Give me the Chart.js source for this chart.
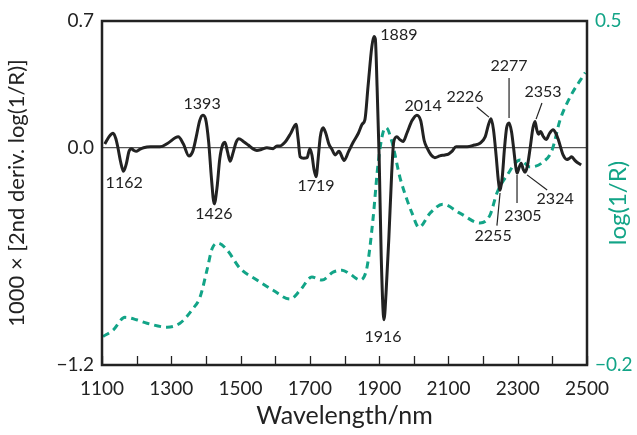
<!DOCTYPE html>
<html>
<head>
<meta charset="utf-8">
<script src="https://cdn.jsdelivr.net/npm/chart.js@4"></script>
<style>
  html, body { margin: 0; padding: 0; background: #fff; }
  #wrap { width: 637px; height: 435px; }
</style>
</head>
<body>
<div id="wrap"><canvas id="chart-nir" width="637" height="435"></canvas></div>
<script>
// second derivative spectrum (x1000), left axis
const derivWl = [1108, 1120, 1132, 1140, 1146, 1154, 1162, 1170, 1178, 1185, 1192, 1199, 1208, 1220, 1240, 1267,
  1290, 1320, 1335, 1351, 1362, 1372, 1382, 1391, 1399, 1408, 1416, 1424, 1432, 1440, 1449, 1455, 1462, 1470, 1478,
  1487, 1495, 1508, 1522, 1535, 1547, 1560, 1576, 1594, 1605, 1614, 1628, 1645, 1660, 1666, 1672, 1682, 1692, 1700,
  1706, 1712, 1718, 1724, 1730, 1738, 1746, 1755, 1764, 1773, 1784, 1799, 1812, 1825, 1840, 1851, 1859, 1868, 1879,
  1885, 1889, 1894, 1900, 1906, 1914, 1920, 1928, 1936, 1942, 1951, 1960, 1969, 1980, 1995, 2009, 2020, 2030, 2038,
  2050, 2061, 2075, 2090, 2100, 2110, 2122, 2135, 2154, 2175, 2191, 2206, 2216, 2223, 2230, 2238, 2244, 2249, 2255,
  2262, 2268, 2275, 2282, 2288, 2294, 2298, 2304, 2310, 2316, 2321, 2328, 2336, 2344, 2350, 2355, 2360, 2366, 2373,
  2382, 2392, 2402, 2410, 2418, 2431, 2442, 2448, 2456, 2465, 2471, 2483];
const derivVal = [0.02, 0.06, 0.08, 0.05, 0.0, -0.08, -0.13, -0.09, -0.02, -0.005, -0.015, -0.02, -0.01, 0.0, 0.005, 0.005,
  0.025, 0.06, 0.02, -0.045, -0.02, 0.06, 0.15, 0.18, 0.16, 0.03, -0.17, -0.31, -0.22, -0.06, 0.02, 0.03, -0.02, -0.075, -0.03,
  0.03, 0.05, 0.035, 0.015, -0.005, -0.015, -0.01, 0.0, -0.005, 0.01, 0.01, 0.03, 0.08, 0.13, 0.05, -0.05, -0.058, -0.055, -0.005,
  -0.04, -0.12, -0.16, -0.06, 0.06, 0.11, 0.08, 0.02, -0.01, -0.04, -0.02, -0.07, -0.02, 0.03, 0.08, 0.13, 0.155, 0.34, 0.56,
  0.615, 0.6, 0.34, -0.05, -0.6, -0.95, -0.8, -0.5, -0.15, 0.03, 0.06, 0.045, 0.035, 0.08, 0.15, 0.18, 0.15, 0.04, 0.0,
  -0.04, -0.055, -0.045, -0.04, -0.035, -0.02, 0.005, 0.005, 0.005, 0.015, 0.025, 0.06, 0.13, 0.16, 0.1, -0.05, -0.18, -0.235, -0.17,
  0.0, 0.11, 0.137, 0.09, 0.0, -0.1, -0.14, -0.11, -0.085, -0.12, -0.135, -0.1, 0.0, 0.11, 0.145, 0.1, 0.075, 0.09, 0.065,
  0.045, 0.08, 0.1, 0.08, 0.04, -0.04, -0.065, -0.06, -0.05, -0.07, -0.08, -0.095];

// log(1/R) spectrum, right axis
const logWl = [1103, 1132, 1166, 1200, 1230, 1288, 1325, 1363, 1383, 1403, 1418, 1435, 1461, 1498, 1547, 1594, 1643,
  1672, 1706, 1735, 1767, 1793, 1816, 1845, 1865, 1882, 1897, 1910, 1920, 1937, 1960, 1981, 1995, 2015, 2047, 2084,
  2133, 2191, 2220, 2240, 2269, 2307, 2336, 2373, 2399, 2422, 2451, 2495];
const logVal = [-0.142, -0.129, -0.103, -0.108, -0.115, -0.123, -0.115, -0.085, -0.062, -0.007, 0.037, 0.048, 0.034,
  -0.003, -0.027, -0.048, -0.066, -0.048, -0.021, -0.027, -0.011, -0.007, -0.015, -0.027, -0.001, 0.095, 0.21, 0.27,
  0.283, 0.254, 0.182, 0.135, 0.109, 0.08, 0.109, 0.127, 0.109, 0.089, 0.105, 0.15, 0.186, 0.217, 0.203, 0.213, 0.237,
  0.298, 0.345, 0.395];

const xTickMarks = [1100, 1200, 1300, 1400, 1500, 1600, 1700, 1800, 1900, 2000, 2100, 2200, 2300, 2400, 2500];
const leftTicks = [-1.2, 0.0, 0.7];
const rightTicks = [-0.2, 0.5];

// peak labels: text, position (nm, left-axis units), optional leader line
const peakText = ['1162', '1393', '1426', '1719', '1889', '1916', '2014', '2226', '2277', '2353', '2255', '2305', '2324'];
const peakTextWl = [1164, 1389, 1423, 1718, 1957, 1911, 2027, 2148, 2275, 2373, 2229, 2315, 2408];
const peakTextVal = [-0.195, 0.241, -0.366, -0.212, 0.623, -1.045, 0.23, 0.28, 0.45, 0.31, -0.488, -0.377, -0.283];
const leaders = [
  null, null, null, null, null, null, null,
  [2182, 0.225, 2217, 0.169],
  [2275, 0.385, 2275, 0.164],
  [2370, 0.247, 2353, 0.158],
  [2249, -0.25, 2240, -0.43],
  [2298, -0.15, 2298, -0.305],
  [2327, -0.15, 2385, -0.234]
];

const GREEN = '#12a487';
const INK = '#222222';
const FONT = "Lato, 'Noto Sans', sans-serif";

const fmt = v => (v < 0 ? '\u2212' : '') + Math.abs(v).toFixed(1);

const framePlugin = {
  id: 'frame',
  afterDatasetsDraw(chart) {
    const { ctx, chartArea: a, scales } = chart;
    const x = scales.x, y = scales.y;
    ctx.save();
    // inward ticks along the bottom
    ctx.strokeStyle = INK;
    ctx.lineWidth = 1.3;
    xTickMarks.forEach(w => {
      const px = Math.round(x.getPixelForValue(w)) + 0.5;
      ctx.beginPath();
      ctx.moveTo(px, a.bottom);
      ctx.lineTo(px, a.bottom - 9);
      ctx.stroke();
    });
    // box
    ctx.lineWidth = 2.5;
    ctx.strokeRect(a.left, a.top, a.right - a.left, a.bottom - a.top);
    // peak labels
    ctx.fillStyle = INK;
    ctx.font = '16px ' + FONT;
    ctx.textAlign = 'center';
    ctx.textBaseline = 'middle';
    peakText.forEach((t, i) => {
      ctx.fillText(t, x.getPixelForValue(peakTextWl[i]), y.getPixelForValue(peakTextVal[i]));
      const l = leaders[i];
      if (l) {
        ctx.lineWidth = 1.2;
        ctx.beginPath();
        ctx.moveTo(x.getPixelForValue(l[0]), y.getPixelForValue(l[1]));
        ctx.lineTo(x.getPixelForValue(l[2]), y.getPixelForValue(l[3]));
        ctx.stroke();
      }
    });
    // right axis title, reads bottom to top
    ctx.save();
    ctx.translate(618, (a.top + a.bottom) / 2 + 10);
    ctx.rotate(-Math.PI / 2);
    ctx.fillStyle = GREEN;
    ctx.font = '24px ' + FONT;
    ctx.fillText('log(1/R)', 0, 0);
    ctx.restore();
    ctx.restore();
  }
};

new Chart(document.getElementById('chart-nir').getContext('2d'), {
  type: 'line',
  data: {
    datasets: [
      {
        label: '2nd deriv', yAxisID: 'y',
        data: derivWl.map((w, i) => ({ x: w, y: derivVal[i] })),
        borderColor: INK, borderWidth: 3, pointRadius: 0,
        tension: 0.4, cubicInterpolationMode: 'monotone'
      },
      {
        label: 'log(1/R)', yAxisID: 'y1',
        data: logWl.map((w, i) => ({ x: w, y: logVal[i] })),
        borderColor: GREEN, borderWidth: 3, borderDash: [7, 5], pointRadius: 0,
        tension: 0.4, cubicInterpolationMode: 'monotone'
      }
    ]
  },
  options: {
    responsive: false,
    animation: false,
    layout: { padding: { top: 21, left: 0, right: 0, bottom: 0 } },
    plugins: { legend: { display: false }, tooltip: { enabled: false } },
    scales: {
      x: {
        type: 'linear', min: 1100, max: 2500,
        afterFit: s => { s.height = 70; },
        ticks: { stepSize: 200, color: INK, font: { family: FONT, size: 19 }, padding: 4, maxRotation: 0, callback: v => String(v) },
        grid: { display: false },
        border: { display: false },
        title: { display: true, text: 'Wavelength/nm', color: INK, font: { family: FONT, size: 25 }, padding: { top: 2 } }
      },
      y: {
        position: 'left', min: -1.2, max: 0.7,
        afterFit: s => { s.width = 102; },
        afterBuildTicks: s => { s.ticks = leftTicks.map(v => ({ value: v })); },
        ticks: { color: INK, font: { family: FONT, size: 19 }, padding: 8, callback: v => fmt(v) },
        grid: {
          drawTicks: false, lineWidth: 1.3,
          color: c => (c.tick && c.tick.value === 0 ? '#555555' : 'rgba(0,0,0,0)')
        },
        border: { display: false },
        title: { display: true, text: '1000 \u00d7 [2nd deriv. log(1/R)]', color: INK, font: { family: FONT, size: 22 }, padding: { bottom: 2 } }
      },
      y1: {
        position: 'right', min: -0.2, max: 0.5,
        afterFit: s => { s.width = 50; },
        afterBuildTicks: s => { s.ticks = rightTicks.map(v => ({ value: v })); },
        ticks: { color: GREEN, font: { family: FONT, size: 19 }, padding: 8, callback: v => fmt(v) },
        grid: { display: false, drawTicks: false },
        border: { display: false }
      }
    }
  },
  plugins: [framePlugin]
});
</script>
</body>
</html>
